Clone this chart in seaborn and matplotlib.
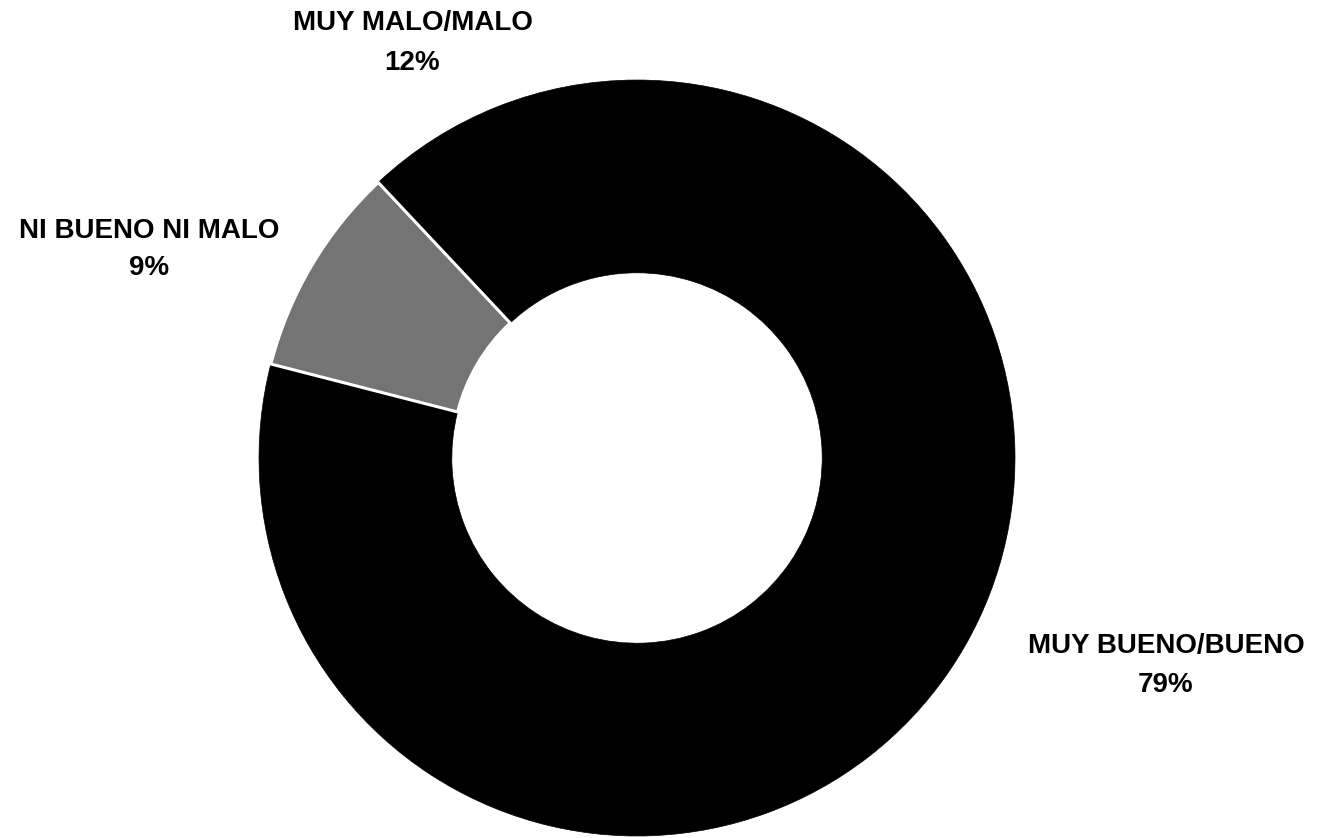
import matplotlib
matplotlib.use("Agg")
import matplotlib.pyplot as plt
import seaborn as sns

categories = ["MUY MALO/MALO", "NI BUENO NI MALO", "MUY BUENO/BUENO"]
percentages = [12, 9, 79]
colors = ["#000000", "#747474", "#000000"]
# (x, baseline of name, baseline of percent) in figure fractions
label_pos = [(0.312, 0.9642, 0.9165), (0.1127, 0.7160, 0.6718), (0.882, 0.2208, 0.1742)]

sns.set_theme(style="white")
plt.rcParams["font.family"] = ["Liberation Sans", "DejaVu Sans"]

fig = plt.figure(figsize=(13.22, 8.38), dpi=100)
fig.patch.set_facecolor("white")
ax = fig.add_axes([0.1959, 0.0024, 0.5719, 0.9021])

wedges, _ = ax.pie(percentages, colors=colors, startangle=90, counterclock=True,
                   wedgeprops=dict(width=0.51, edgecolor="black", linewidth=0.5))
for w, c in zip(wedges, colors):
    if c != "#000000":
        w.set_edgecolor("white")
        w.set_linewidth(2.2)
        w.set_zorder(5)
ax.set_xlim(-1, 1)
ax.set_ylim(-1, 1)
ax.axis("off")

for name, pct, (x, y1, y2) in zip(categories, percentages, label_pos):
    fig.text(x, y1, name, ha="center", va="baseline", fontsize=20,
             fontweight="bold", color="black")
    fig.text(x, y2, f"{pct}%", ha="center", va="baseline", fontsize=20,
             fontweight="bold", color="black")

fig.savefig("out.png", dpi=100, facecolor="white")
